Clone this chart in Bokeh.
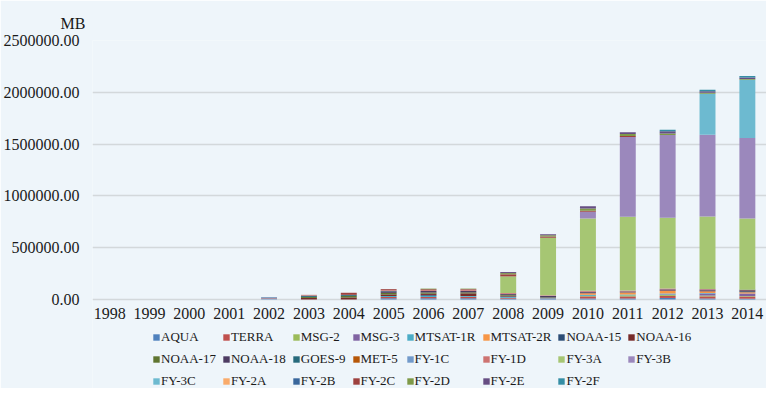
from bokeh.plotting import figure
from bokeh.models import ColumnDataSource, Range1d, FixedTicker, NumeralTickFormatter, Title
from bokeh.embed import file_html
from bokeh.resources import INLINE

years = ["1998", "1999", "2000", "2001", "2002", "2003", "2004", "2005", "2006",
         "2007", "2008", "2009", "2010", "2011", "2012", "2013", "2014"]

series_names = ["AQUA", "TERRA", "MSG-2", "MSG-3", "MTSAT-1R", "MTSAT-2R", "NOAA-15", "NOAA-16",
                "NOAA-17", "NOAA-18", "GOES-9", "MET-5", "FY-1C", "FY-1D", "FY-3A", "FY-3B",
                "FY-3C", "FY-2A", "FY-2B", "FY-2C", "FY-2D", "FY-2E", "FY-2F"]

series_colors = ["#4F81BD", "#C0504D", "#9BBB59", "#8064A2", "#4BACC6", "#F79646", "#2C4D75", "#772C2A",
                 "#5F7530", "#4D3B62", "#276A7C", "#B65708", "#729ACA", "#CD7371", "#A6C673", "#9B88BC",
                 "#6DBAD0", "#F9AB6B", "#3A679C", "#9E413E", "#7F9A48", "#664E83", "#358EA5"]

#              1998 1999 2000 2001  2002   2003   2004   2005   2006   2007   2008    2009    2010    2011    2012    2013    2014
AQUA       = [0, 0, 0, 0, 0,     0,     0,     12000, 12000, 12000, 8000,   5000,   10000,  10000,  15000,  10000,  8000]
TERRA      = [0, 0, 0, 0, 0,     0,     0,     12000, 12000, 14000, 8000,   5000,   20000,  20000,  20000,  20000,  20000]
MSG_2      = [0, 0, 0, 0, 0,     0,     0,     0,     0,     0,     0,      0,      5000,   10000,  10000,  8000,   5000]
MSG_3      = [0, 0, 0, 0, 0,     0,     0,     0,     0,     0,     0,      0,      0,      0,      5000,   20000,  25000]
MTSAT_1R   = [0, 0, 0, 0, 0,     0,     0,     10000, 12000, 8000,  8000,   5000,   10000,  8000,   8000,   5000,   0]
MTSAT_2R   = [0, 0, 0, 0, 0,     0,     0,     0,     0,     0,     0,      0,      15000,  20000,  25000,  15000,  12000]
NOAA_15    = [0, 0, 0, 0, 0,     0,     0,     0,     8000,  0,     5000,   0,      0,      0,      0,      0,      10000]
NOAA_16    = [0, 0, 0, 0, 0,     15000, 20000, 15000, 12000, 25000, 8000,   0,      5000,   0,      5000,   8000,   8000]
NOAA_17    = [0, 0, 0, 0, 0,     10000, 15000, 15000, 12000, 10000, 8000,   5000,   0,      0,      0,      0,      0]
NOAA_18    = [0, 0, 0, 0, 0,     0,     0,     15000, 15000, 15000, 10000,  15000,  10000,  10000,  10000,  10000,  7000]
GOES_9     = [0, 0, 0, 0, 0,     12000, 10000, 5000,  0,     0,     0,      0,      0,      0,      0,      0,      0]
MET_5      = [0, 0, 0, 0, 0,     0,     0,     0,     0,     0,     0,      0,      0,      0,      0,      0,      0]
FY_1C      = [0, 0, 0, 0, 6000,  0,     0,     0,     0,     0,     0,      0,      0,      0,      0,      0,      0]
FY_1D      = [0, 0, 0, 0, 6000,  8000,  0,     8000,  8000,  10000, 8000,   5000,   10000,  8000,   8000,   6000,   0]
FY_3A      = [0, 0, 0, 0, 0,     0,     0,     0,     0,     0,     160000, 555000, 697000, 713000, 684000, 700000, 687000]
FY_3B      = [0, 0, 0, 0, 0,     0,     0,     0,     0,     0,     0,      0,      65000,  770000, 798000, 789000, 777000]
FY_3C      = [0, 0, 0, 0, 0,     0,     0,     0,     0,     0,     0,      0,      0,      0,      0,      396000, 561000]
FY_2A      = [0, 0, 0, 0, 0,     0,     0,     0,     0,     0,     0,      0,      0,      0,      0,      0,      0]
FY_2B      = [0, 0, 0, 0, 8000,  0,     0,     0,     0,     0,     0,      0,      0,      0,      0,      0,      0]
FY_2C      = [0, 0, 0, 0, 0,     0,     20000, 8000,  8000,  6000,  20000,  12000,  10000,  8000,   0,      0,      0]
FY_2D      = [0, 0, 0, 0, 0,     0,     0,     0,     6000,  5000,  12000,  12000,  22000,  20000,  15000,  8000,   8000]
FY_2E      = [0, 0, 0, 0, 0,     0,     0,     0,     0,     0,     10000,  10000,  20000,  18000,  20000,  15000,  15000]
FY_2F      = [0, 0, 0, 0, 0,     0,     0,     0,     0,     0,     0,      0,      0,      0,      15000,  15000,  15000]

y_ticks = [0, 500000, 1000000, 1500000, 2000000, 2500000]
unit_label = "MB"

series_values = [AQUA, TERRA, MSG_2, MSG_3, MTSAT_1R, MTSAT_2R, NOAA_15, NOAA_16, NOAA_17, NOAA_18,
                 GOES_9, MET_5, FY_1C, FY_1D, FY_3A, FY_3B, FY_3C, FY_2A, FY_2B, FY_2C, FY_2D, FY_2E, FY_2F]

BG = "#EEF5FA"
FONT = "Liberation Serif"
TXT = "#1a1a1a"

W, H = 766, 388
TOP, LEFT, ZERO_PX = 40, 92, 299   # frame top, frame left, pixel row of y = 0

year_nums = [int(y) for y in years]
data = {"year": year_nums}
for name, vals in zip(series_names, series_values):
    data[name] = vals
source = ColumnDataSource(data)

per_px = (y_ticks[-1] - y_ticks[0]) / (ZERO_PX - TOP)
y_start = y_ticks[0] - (H - ZERO_PX) * per_px

p = figure(width=W, height=H, output_backend="svg", toolbar_location=None,
           x_range=Range1d(year_nums[0] - 0.43, year_nums[-1] + 0.48),
           y_range=Range1d(y_start, y_ticks[-1]),
           min_border_left=LEFT, min_border_right=0, min_border_top=TOP, min_border_bottom=0)

p.background_fill_color = BG
p.border_fill_color = BG
p.outline_line_color = None

p.vbar_stack(series_names, x="year", width=0.4, color=series_colors, source=source,
             legend_label=series_names, line_width=0)

p.xaxis.visible = False
p.xgrid.grid_line_color = None
p.ygrid.grid_line_color = "#D3D8DB"
p.ygrid.grid_line_width = 1.3
p.ygrid.ticker = FixedTicker(ticks=y_ticks)

ya = p.yaxis[0]
ya.ticker = FixedTicker(ticks=y_ticks)
ya.formatter = NumeralTickFormatter(format="0.00")
ya.axis_line_color = None
ya.major_tick_line_color = None
ya.minor_tick_line_color = None
ya.major_label_text_font = FONT
ya.major_label_text_font_size = "16px"
ya.major_label_text_color = TXT
ya.major_label_standoff = 7

# year labels under the bars
p.text(x=year_nums, y=[0] * len(year_nums), text=years, y_offset=8,
       text_align="center", text_baseline="top", text_font={"value": FONT},
       text_font_size={"value": "16px"}, text_color=TXT)

title = Title(text=unit_label, align="left", offset=-32, standoff=18,
              text_font=FONT, text_font_size="16px", text_font_style="normal", text_color=TXT)
p.add_layout(title, "above")

lg = p.legend[0]
lg.orientation = "horizontal"
lg.ncols = 8
lg.location = (60, -1)
lg.background_fill_alpha = 0
lg.border_line_alpha = 0
lg.padding = 0
lg.margin = 0
lg.spacing = 6
lg.glyph_width = 8
lg.glyph_height = 8
lg.label_standoff = 1
lg.label_height = 15
lg.label_text_font = FONT
lg.label_text_font_size = "13px"
lg.label_text_color = TXT

html = file_html(p, INLINE)
html = html.replace("<body>", '<body style="background:%s">' % BG, 1)
open("out.html", "w").write(html)
